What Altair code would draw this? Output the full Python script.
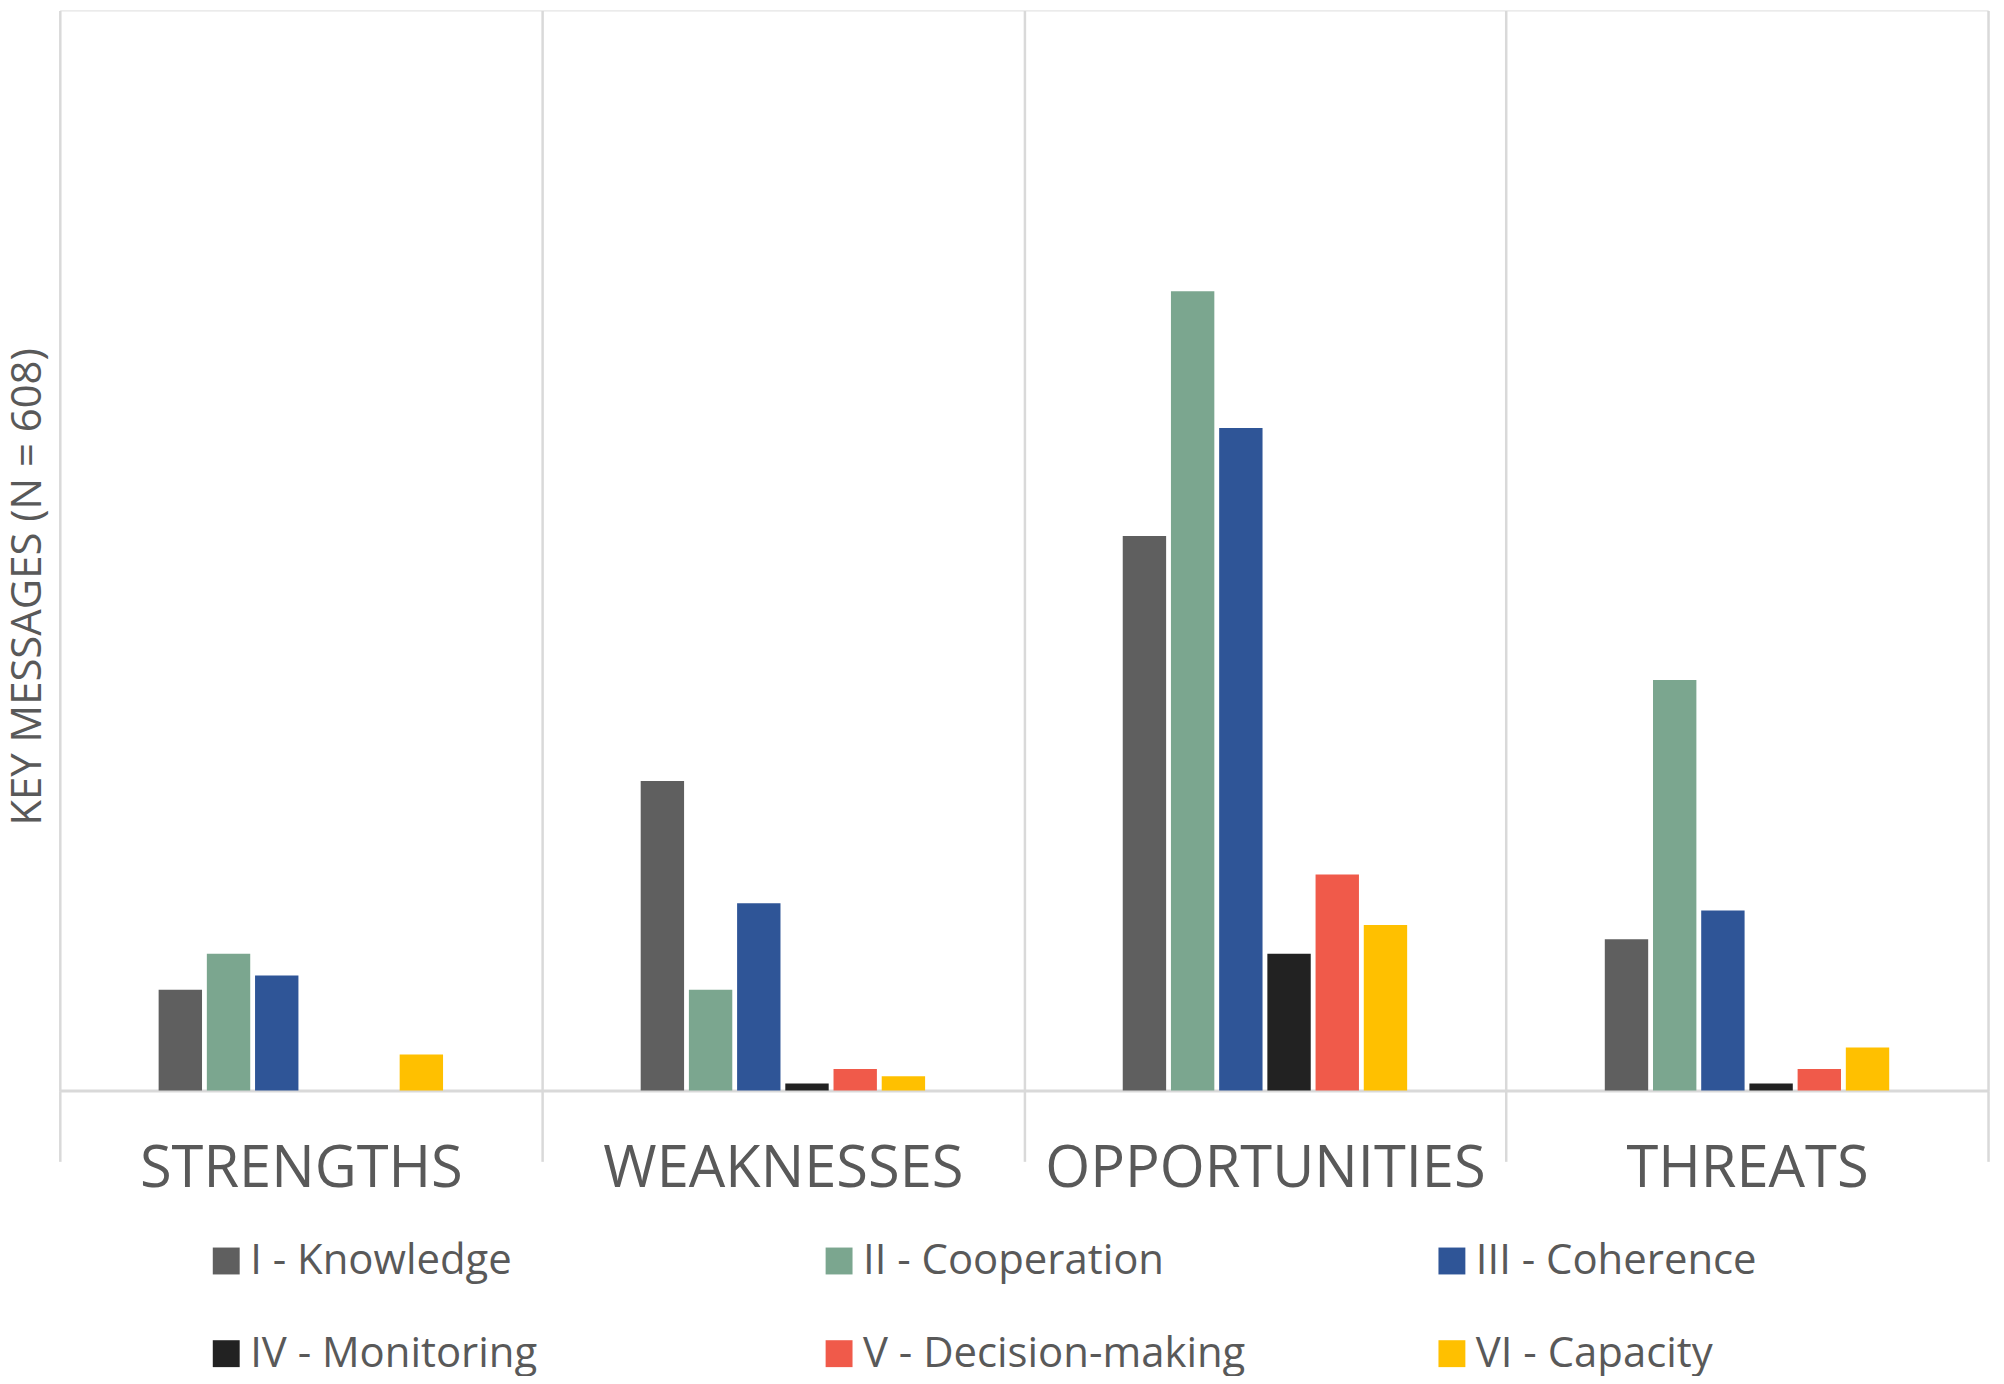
import altair as alt
import pandas as pd

categories = ["STRENGTHS", "WEAKNESSES", "OPPORTUNITIES", "THREATS"]
series = ["I - Knowledge", "II - Cooperation", "III - Coherence",
          "IV - Monitoring", "V - Decision-making", "VI - Capacity"]
colors = ["#5f5f5f", "#7ba68f", "#2f5597", "#222222", "#f05a4a", "#ffc000"]

knowledge = [14, 43, 77, 21]
cooperation = [19, 14, 111, 57]
coherence = [16, 26, 92, 25]
monitoring = [0, 1, 19, 1]
decision = [0, 3, 30, 3]
capacity = [5, 2, 23, 6]

values = [knowledge, cooperation, coherence, monitoring, decision, capacity]
rows = []
for s, vals in zip(series, values):
    for c, v in zip(categories, vals):
        rows.append({"category": c, "series": s, "count": v})
df = pd.DataFrame(rows)

TXT = "#595959"
GRID = "#d9d9d9"
FONT = "Open Sans"

W = 1935
band = W / len(categories)
sub = band / 10.0

chart = alt.Chart(df).mark_bar().encode(
    x=alt.X("category:N", sort=categories,
            scale=alt.Scale(paddingInner=0, paddingOuter=0),
            axis=alt.Axis(title=None, tickBand="extent", grid=True,
                          gridColor=GRID, gridWidth=2.5,
                          ticks=True, tickColor=GRID, tickWidth=2.5, tickSize=71,
                          domain=True, domainColor=GRID, domainWidth=3,
                          labelFont=FONT, labelFontSize=58, labelColor=TXT,
                          labelBaseline="middle", labelPadding=8, labelAngle=0,
                          labelLimit=800)),
    xOffset=alt.XOffset("series:N", sort=series,
                        scale=alt.Scale(paddingInner=0.1, paddingOuter=0,
                                        range=[2.05 * sub, 7.95 * sub])),
    y=alt.Y("count:Q", scale=alt.Scale(domain=[0, 150], nice=False, zero=True),
            axis=alt.Axis(title="KEY MESSAGES (N = 608)", labels=False, ticks=False,
                          domain=False, grid=False,
                          titleFont=FONT, titleFontSize=42, titleFontWeight="normal",
                          titleColor=TXT, titleX=-32, titleY=578, titleAngle=270,
                          titleAlign="center", titleBaseline="middle")),
    color=alt.Color("series:N", sort=series,
                    scale=alt.Scale(domain=series, range=colors),
                    legend=alt.Legend(title=None, orient="none", legendX=146, legendY=1234,
                                      direction="horizontal",
                                      columns=3, columnPadding=186, rowPadding=51,
                                      gridAlign="all", padding=0,
                                      symbolType="square", symbolSize=729,
                                      symbolStrokeWidth=0, labelOffset=3,
                                      labelFont=FONT, labelFontSize=42, labelColor=TXT,
                                      labelLimit=600)),
).properties(
    width=W, height=1084,
    autosize=alt.AutoSizeParams(type="none"),
    padding={"left": 52, "top": 0, "right": 8, "bottom": 284},
).configure_view(stroke=None).configure(background="white")

chart.save("out.html", embed_options={"renderer": "svg", "actions": False})
